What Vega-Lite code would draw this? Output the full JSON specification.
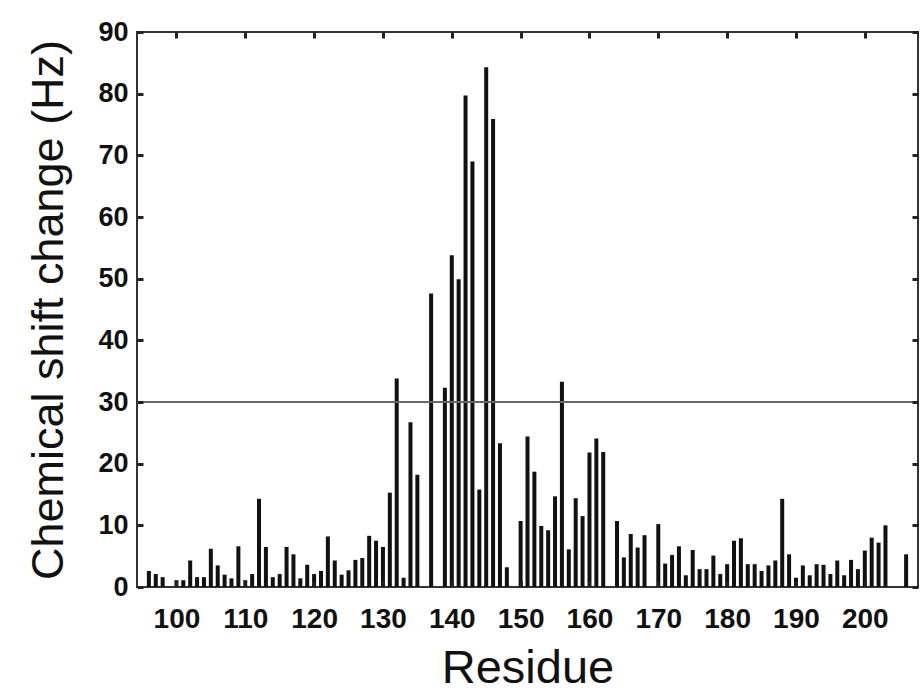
{
  "$schema": "https://vega.github.io/schema/vega-lite/v6.json",
  "autosize": {"type": "none"},
  "padding": {"left": 137, "top": 32, "right": 5, "bottom": 111},
  "width": 781,
  "height": 555,
  "background": "white",
  "config": {
    "view": {"stroke": "#333333", "strokeWidth": 2},
    "font": "Liberation Sans",
    "axis": {"grid": false, "domain": false, "labelFont": "Liberation Sans", "titleFont": "Liberation Sans", "labelColor": "#111111", "titleColor": "#111111"}
  },
  "data": {"values": [
    {"residue": 96, "shift": 2.6}, {"residue": 97, "shift": 2.1}, {"residue": 98, "shift": 1.6},
    {"residue": 100, "shift": 1.1}, {"residue": 101, "shift": 1.1}, {"residue": 102, "shift": 4.3},
    {"residue": 103, "shift": 1.6}, {"residue": 104, "shift": 1.6}, {"residue": 105, "shift": 6.2},
    {"residue": 106, "shift": 3.5}, {"residue": 107, "shift": 2.0}, {"residue": 108, "shift": 1.4},
    {"residue": 109, "shift": 6.6}, {"residue": 110, "shift": 1.1}, {"residue": 111, "shift": 2.1},
    {"residue": 112, "shift": 14.3}, {"residue": 113, "shift": 6.5}, {"residue": 114, "shift": 1.6},
    {"residue": 115, "shift": 2.1}, {"residue": 116, "shift": 6.5}, {"residue": 117, "shift": 5.3},
    {"residue": 118, "shift": 1.4}, {"residue": 119, "shift": 3.6}, {"residue": 120, "shift": 2.1},
    {"residue": 121, "shift": 2.6}, {"residue": 122, "shift": 8.2}, {"residue": 123, "shift": 4.3},
    {"residue": 124, "shift": 2.0}, {"residue": 125, "shift": 2.7}, {"residue": 126, "shift": 4.4},
    {"residue": 127, "shift": 4.7}, {"residue": 128, "shift": 8.3}, {"residue": 129, "shift": 7.5},
    {"residue": 130, "shift": 6.5}, {"residue": 131, "shift": 15.3}, {"residue": 132, "shift": 33.8},
    {"residue": 133, "shift": 1.5}, {"residue": 134, "shift": 26.7}, {"residue": 135, "shift": 18.2},
    {"residue": 137, "shift": 47.6}, {"residue": 139, "shift": 32.3}, {"residue": 140, "shift": 53.8},
    {"residue": 141, "shift": 49.9}, {"residue": 142, "shift": 79.7}, {"residue": 143, "shift": 69.0},
    {"residue": 144, "shift": 15.8}, {"residue": 145, "shift": 84.3}, {"residue": 146, "shift": 75.9},
    {"residue": 147, "shift": 23.3}, {"residue": 148, "shift": 3.2}, {"residue": 150, "shift": 10.7},
    {"residue": 151, "shift": 24.4}, {"residue": 152, "shift": 18.7}, {"residue": 153, "shift": 9.9},
    {"residue": 154, "shift": 9.2}, {"residue": 155, "shift": 14.7}, {"residue": 156, "shift": 33.3},
    {"residue": 157, "shift": 6.1}, {"residue": 158, "shift": 14.4}, {"residue": 159, "shift": 11.5},
    {"residue": 160, "shift": 21.8}, {"residue": 161, "shift": 24.1}, {"residue": 162, "shift": 21.9},
    {"residue": 164, "shift": 10.7}, {"residue": 165, "shift": 4.8}, {"residue": 166, "shift": 8.6},
    {"residue": 167, "shift": 6.4}, {"residue": 168, "shift": 8.4}, {"residue": 170, "shift": 10.2},
    {"residue": 171, "shift": 3.8}, {"residue": 172, "shift": 5.2}, {"residue": 173, "shift": 6.6},
    {"residue": 174, "shift": 1.9}, {"residue": 175, "shift": 6.0}, {"residue": 176, "shift": 2.9},
    {"residue": 177, "shift": 2.9}, {"residue": 178, "shift": 5.1}, {"residue": 179, "shift": 2.1},
    {"residue": 180, "shift": 3.7}, {"residue": 181, "shift": 7.5}, {"residue": 182, "shift": 7.9},
    {"residue": 183, "shift": 3.7}, {"residue": 184, "shift": 3.7}, {"residue": 185, "shift": 2.6},
    {"residue": 186, "shift": 3.5}, {"residue": 187, "shift": 4.3}, {"residue": 188, "shift": 14.3},
    {"residue": 189, "shift": 5.3}, {"residue": 190, "shift": 1.5}, {"residue": 191, "shift": 3.5},
    {"residue": 192, "shift": 1.9}, {"residue": 193, "shift": 3.7}, {"residue": 194, "shift": 3.6},
    {"residue": 195, "shift": 2.1}, {"residue": 196, "shift": 4.3}, {"residue": 197, "shift": 1.9},
    {"residue": 198, "shift": 4.4}, {"residue": 199, "shift": 2.9}, {"residue": 200, "shift": 5.9},
    {"residue": 201, "shift": 8.0}, {"residue": 202, "shift": 7.2}, {"residue": 203, "shift": 10.0},
    {"residue": 206, "shift": 5.3}
  ]},
  "layer": [
    {
      "mark": {"type": "bar", "size": 4, "color": "#111111"},
      "encoding": {
        "x": {"field": "residue", "type": "quantitative", "scale": {"domain": [95, 207], "nice": false, "zero": false},
              "axis": {"orient": "bottom", "offset": -6, "ticks": true, "tickColor": "#222222", "tickWidth": 3, "tickSize": 6, "zindex": 2, "title": "Residue", "values": [100,110,120,130,140,150,160,170,180,190,200], "labelFontSize": 28, "labelFontWeight": "bold", "labelPadding": 18, "titleFontSize": 47, "titleFontWeight": "normal", "titleBaseline": "alphabetic", "titleY": 101}},
        "y": {"field": "shift", "type": "quantitative", "scale": {"domain": [0, 90], "nice": false},
              "axis": {"orient": "left", "offset": -6, "ticks": true, "tickColor": "#222222", "tickWidth": 3, "tickSize": 6, "zindex": 2, "title": "Chemical shift change (Hz)", "values": [0,10,20,30,40,50,60,70,80,90], "labelFontSize": 27, "labelFontWeight": "bold", "labelPadding": 9, "titleFontSize": 45, "titleFontWeight": "normal", "titleBaseline": "alphabetic", "titleX": -81}}
      }
    },
    {
      "mark": {"type": "bar", "size": 4, "opacity": 0},
      "encoding": {
        "x": {"field": "residue", "type": "quantitative", "scale": {"domain": [95, 207], "nice": false, "zero": false},
              "axis": {"orient": "top", "offset": -6, "ticks": true, "tickColor": "#222222", "tickWidth": 3, "tickSize": 6, "zindex": 2, "title": null, "labels": false, "values": [100,110,120,130,140,150,160,170,180,190,200]}},
        "y": {"field": "shift", "type": "quantitative", "scale": {"domain": [0, 90], "nice": false},
              "axis": {"orient": "right", "offset": -6, "ticks": true, "tickColor": "#222222", "tickWidth": 3, "tickSize": 6, "zindex": 2, "title": null, "labels": false, "values": [0,10,20,30,40,50,60,70,80,90]}}
      }
    },
    {
      "mark": {"type": "rule", "color": "#666666", "strokeWidth": 2},
      "encoding": {"y": {"datum": 30, "axis": null}}
    }
  ],
  "resolve": {"axis": {"x": "independent", "y": "independent"}}
}
